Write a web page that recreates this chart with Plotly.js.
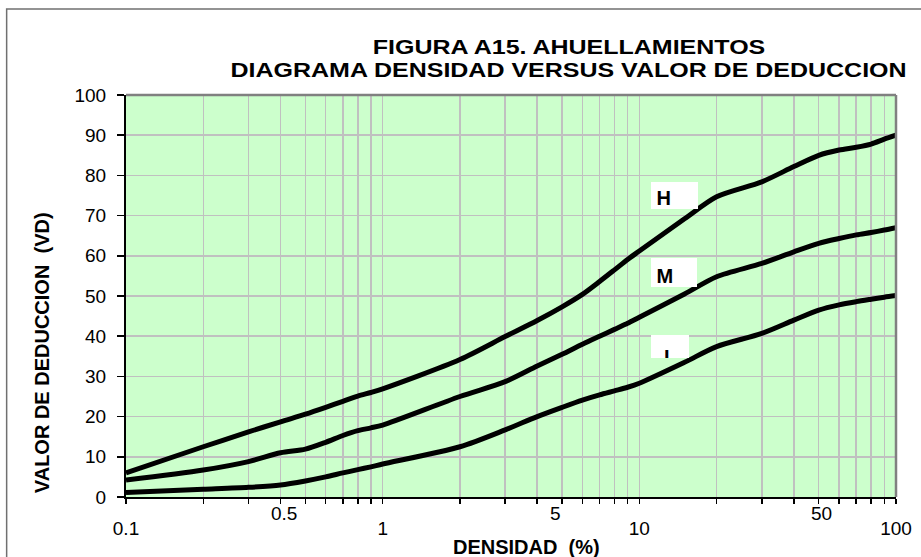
<!DOCTYPE html>
<html>
<head>
<meta charset="utf-8">
<script src="https://cdn.plot.ly/plotly-3.0.1.min.js"></script>
<style>
  html, body { margin: 0; padding: 0; background: #ffffff; }
  #chart { width: 921px; height: 557px; }
  /* the reference title is set in a horizontally stretched bold face */
  g.annotation[data-index="0"] text.annotation-text,
  g.annotation[data-index="1"] text.annotation-text {
    transform-box: fill-box; transform-origin: center; transform: scaleX(1.25);
  }
</style>
</head>
<body>
<div id="chart"></div>
<script>
// ---- data ----
const density = [0.1, 0.2, 0.3, 0.4, 0.5, 0.6, 0.7, 0.8, 0.9, 1, 2, 3, 4, 5, 6, 7, 8, 9, 10, 15, 20, 30, 40, 50, 60, 70, 80, 90, 100];
const vdHigh   = [6.0, 12.5, 16.2, 18.7, 20.6, 22.3, 23.8, 25.1, 26.0, 26.9, 34.2, 39.9, 43.9, 47.3, 50.4, 53.6, 56.5, 59.1, 61.2, 69.2, 74.7, 78.4, 82.2, 85.0, 86.3, 87.0, 87.8, 89.0, 90.0];
const vdMedium = [4.2, 6.7, 8.8, 11.0, 11.9, 13.6, 15.3, 16.5, 17.2, 17.9, 25.0, 28.7, 32.6, 35.5, 38.0, 40.0, 41.7, 43.2, 44.7, 50.5, 54.8, 58.1, 61.0, 63.1, 64.3, 65.2, 65.8, 66.4, 67.0];
const vdLow    = [1.1, 1.9, 2.4, 3.0, 4.0, 5.0, 6.0, 6.8, 7.5, 8.2, 12.5, 16.7, 20.0, 22.3, 24.1, 25.4, 26.4, 27.3, 28.3, 33.5, 37.4, 40.7, 44.0, 46.5, 47.8, 48.6, 49.2, 49.7, 50.1];
const seriesNames = ['H', 'M', 'L'];

const xTickVals = [0.1,0.2,0.3,0.4,0.5,0.6,0.7,0.8,0.9,1,2,3,4,5,6,7,8,9,10,20,30,40,50,60,70,80,90,100];
const xMainLabels = ['0.1', '1', '10', '100'];
const xMidLabels = ['0.5', '5', '50'];
const yTickVals = [0,10,20,30,40,50,60,70,80,90,100];

const titleLine1 = 'FIGURA A15. AHUELLAMIENTOS';
const titleLine2 = 'DIAGRAMA DENSIDAD VERSUS VALOR DE DEDUCCION';
const xTitle = 'DENSIDAD&nbsp; (%)';
const yTitle = 'VALOR DE DEDUCCION&nbsp; (VD)';

// ---- build ----
const FONT = 'Liberation Sans, Arial, sans-serif';
const lineStyle = {color: '#000000', width: 5, shape: 'spline', smoothing: 0.8};
const traces = [vdHigh, vdMedium, vdLow].map((vals, i) => ({
  type: 'scatter', mode: 'lines', x: density, y: vals, name: seriesNames[i],
  line: lineStyle, hoverinfo: 'x+y+name'
}));

const xTickText = xTickVals.map(v => {
  const s = String(v);
  return xMainLabels.includes(s) ? s : '';
});

const annotations = [];
// title lines (indices 0 and 1)
annotations.push({xref: 'paper', yref: 'paper', x: 0.5753, y: 1.1194, text: titleLine1, showarrow: false,
  xanchor: 'center', yanchor: 'middle', font: {family: FONT, size: 20, color: '#000', weight: 'bold'}});
annotations.push({xref: 'paper', yref: 'paper', x: 0.5753, y: 1.0622, text: titleLine2, showarrow: false,
  xanchor: 'center', yanchor: 'middle', font: {family: FONT, size: 20, color: '#000', weight: 'bold'}});
// axis titles
annotations.push({xref: 'paper', yref: 'paper', x: 0.5195, y: -0.1256, text: xTitle, showarrow: false,
  xanchor: 'center', yanchor: 'middle', font: {family: FONT, size: 20, color: '#000', weight: 'bold'}});
annotations.push({xref: 'paper', yref: 'paper', x: -0.109, y: 0.358, text: yTitle, showarrow: false, textangle: -90,
  xanchor: 'center', yanchor: 'middle', font: {family: FONT, size: 20, color: '#000', weight: 'bold'}});
// raised intermediate tick labels
const midShift = [-21, -7, 3];
xMidLabels.forEach((lab, i) => {
  annotations.push({xref: 'x', yref: 'y', x: Math.log10(parseFloat(lab)), y: 0, text: lab, showarrow: false,
    xanchor: 'center', yanchor: 'middle', xshift: midShift[i], yshift: -16,
    font: {family: FONT, size: 19, color: '#000'}});
});
// series labels in white boxes
const labelBoxes = [
  {x: 13.7, y: 75.0, w: 47, h: 27, text: '&nbsp;' + seriesNames[0]},
  {x: 13.7, y: 55.8, w: 46, h: 29, text: '&nbsp;' + seriesNames[1]},
  {x: 13.2, y: 37.4, w: 38, h: 23, text: '&nbsp;'}
];
labelBoxes.forEach(b => {
  annotations.push({xref: 'x', yref: 'y', x: Math.log10(b.x), y: b.y, text: b.text, showarrow: false,
    xanchor: 'center', yanchor: 'middle', width: b.w, height: b.h, align: 'left', valign: 'bottom',
    bgcolor: '#ffffff', borderpad: 0, borderwidth: 0,
    font: {family: FONT, size: 20, color: '#000', weight: 'bold'}});
});
// the "L" label is cut off by the bottom of its box in the reference
annotations.push({xref: 'x', yref: 'y', x: Math.log10(13.64), y: 36.1, text: seriesNames[2], showarrow: false,
  xanchor: 'center', yanchor: 'middle', width: 20, height: 12, align: 'left', valign: 'top',
  borderpad: 0, borderwidth: 0,
  font: {family: FONT, size: 20, color: '#000', weight: 'bold'}});

const shapes = [
  // outer chart frame
  {type: 'rect', xref: 'paper', yref: 'paper', x0: -0.155, x1: 1.2, y0: -0.3, y1: 1.2139,
   line: {color: '#707070', width: 1.5}, fillcolor: 'rgba(0,0,0,0)', layer: 'below'},
  // plot area top and right borders
  {type: 'line', xref: 'paper', yref: 'paper', x0: 0, x1: 1, y0: 1, y1: 1, line: {color: '#808080', width: 2.5}, layer: 'above'},
  {type: 'line', xref: 'paper', yref: 'paper', x0: 1, x1: 1, y0: 0, y1: 1, line: {color: '#808080', width: 2.5}, layer: 'above'}
];

const layout = {
  width: 921, height: 557,
  margin: {l: 126, r: 25, t: 95, b: 60},
  paper_bgcolor: '#ffffff',
  plot_bgcolor: '#ccffcc',
  showlegend: false,
  font: {family: FONT, color: '#000'},
  xaxis: {
    type: 'log', range: [-1, 2], tickmode: 'array', tickvals: xTickVals, ticktext: xTickText,
    showgrid: true, gridcolor: '#c0c0c0', gridwidth: 1.5,
    showline: true, linecolor: '#000', linewidth: 2,
    ticks: 'outside', ticklen: 5, tickwidth: 1.5, tickcolor: '#000',
    tickfont: {family: FONT, size: 19, color: '#000'}, ticklabelstandoff: 8,
    zeroline: false, fixedrange: true
  },
  yaxis: {
    range: [0, 100], tickmode: 'array', tickvals: yTickVals,
    showgrid: true, gridcolor: '#c0c0c0', gridwidth: 1.5,
    showline: true, linecolor: '#000', linewidth: 2,
    ticks: 'outside', ticklen: 7, tickwidth: 1.5, tickcolor: '#000',
    tickfont: {family: FONT, size: 19, color: '#000'}, ticklabelstandoff: 7,
    zeroline: false, fixedrange: true
  },
  annotations: annotations,
  shapes: shapes
};

Plotly.newPlot('chart', traces, layout, {displayModeBar: false, staticPlot: true});
</script>
</body>
</html>
